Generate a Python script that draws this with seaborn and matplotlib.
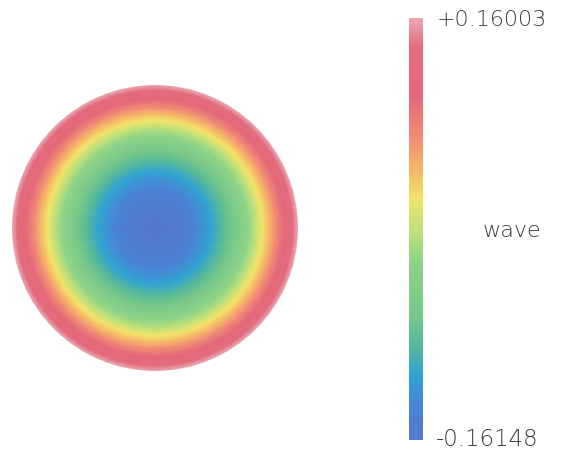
import numpy as np
import pandas as pd
import matplotlib
matplotlib.use("Agg")
import matplotlib.pyplot as plt
from matplotlib.colors import LinearSegmentedColormap, Normalize
from matplotlib.patches import Circle
import seaborn as sns

# ---- data ----
wave_min = -0.16148
wave_max = 0.16003
cbar_labels = ["+0.16003", "-0.16148"]
cbar_title = "wave"
# Zernike description of the map: piston and defocus (2*rho^2 - 1)
zernike_names = ["piston", "defocus"]
zernike_coeffs = [(wave_max + wave_min) / 2, (wave_max - wave_min) / 2]

# ---- colour scale ----
stops = [0.0, 0.08, 0.15, 0.22, 0.30, 0.42, 0.50, 0.57, 0.64, 0.72, 0.82, 0.93, 1.0]
cols = ["#5479ca", "#4a84d4", "#30a2d2", "#56b89c", "#78c888", "#8ed488",
        "#c2e07a", "#f2e26a", "#f6b868", "#ef8a74", "#e4687a", "#e26a7c", "#eaa6b0"]
cmap = LinearSegmentedColormap.from_list("wave", list(zip(stops, cols)))

sns.set_theme(style="white")
plt.rcParams["font.family"] = ["DejaVu Sans"]

W, H = 561, 457
fig = plt.figure(figsize=(W / 100, H / 100), dpi=100)
fig.patch.set_facecolor("white")

# pupil grid
n = 400
edges = np.linspace(-1, 1, n)
xx, yy = np.meshgrid(edges, edges)
rho2 = xx ** 2 + yy ** 2
field = zernike_coeffs[0] * 1 + zernike_coeffs[1] * (2 * np.minimum(rho2, 1.0) - 1)
df = pd.DataFrame(field)

ax = fig.add_axes([12 / W, 1 - 371 / H, 286 / W, 286 / H])
sns.heatmap(df, cmap=cmap, vmin=wave_min, vmax=wave_max, cbar=False,
            xticklabels=False, yticklabels=False, ax=ax, rasterized=True)
clip = Circle((n / 2, n / 2), n / 2, transform=ax.transData)
for coll in ax.collections:
    coll.set_clip_path(clip)
ax.set_axis_off()

# colour bar
cax = fig.add_axes([409 / W, 1 - 440 / H, 14 / W, 422 / H])
sm = plt.cm.ScalarMappable(norm=Normalize(wave_min, wave_max), cmap=cmap)
cb = fig.colorbar(sm, cax=cax)
cb.outline.set_visible(False)
cb.set_ticks([])

tc = "#3a3a3a"
fig.text(437 / W, 1 - 20 / H, cbar_labels[0], ha="left", va="center",
         fontsize=16, color=tc, fontweight="light")
fig.text(436 / W, 1 - 440 / H, cbar_labels[1], ha="left", va="center",
         fontsize=16.5, color=tc, fontweight="light")
fig.text(512 / W, 1 - 231 / H, cbar_title, ha="center", va="center",
         fontsize=16, color=tc, fontweight="light")

fig.savefig("out.png", dpi=100, facecolor="white")
